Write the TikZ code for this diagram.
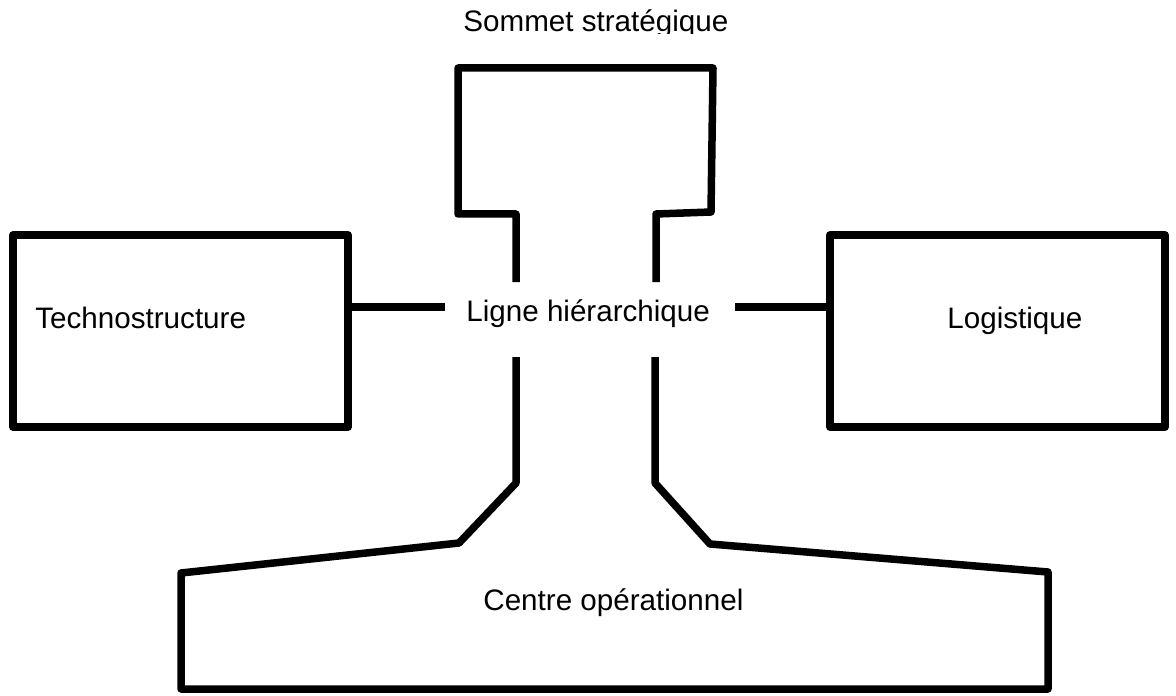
\documentclass[tikz,border=0pt]{standalone}
\usepackage{fontspec}
\setmainfont{Liberation Sans}
\begin{document}
\begin{tikzpicture}[x=0.5pt,y=-0.5pt,
  shape line/.style={line width=3.75pt,line join=round,line cap=butt,black},
  box/.style={draw,rectangle,line width=3.75pt,line join=round,inner sep=0pt,minimum width=167.5pt,minimum height=96pt},
  lbl/.style={inner sep=0pt,anchor=base west,font=\fontsize{14.8}{17}\selectfont}]
\useasboundingbox[fill=white] (0,0) rectangle (1176,695);
% strategic apex label (clipped at the top edge like the reference)
\begin{scope}
\clip (0,0) rectangle (1176,34);
\node[lbl] (sommet) at (463,32) {Sommet stratégique};
\end{scope}
% side boxes
\node[box] (tech) at (180.5,331) {};
\node[box] (logi) at (997.5,331) {};
\node[lbl] (techt) at (35,328) {Technostructure};
\node[lbl] (logit) at (947,328) {Logistique};
% middle line label
\node[lbl] (ligne) at (466,321) {Ligne hiérarchique};
\node[lbl] (centre) at (483,610) {Centre opérationnel};
% apex outline
\draw[shape line] (516,282) -- (516,214) -- (458,214) -- (458,68) -- (713,68)
  -- (711,212) -- (656,214) -- (656,282);
% operating core outline
\draw[shape line] (516,357) -- (516,483) -- (459,543) -- (181,573) -- (181,689)
  -- (1048,689) -- (1048,572) -- (710,544) -- (655,483) -- (655,357);
% connectors
\coordinate (ls) at (445,307);
\coordinate (rs) at (735,307);
\draw[shape line] (tech.east |- ls) -- (ls);
\draw[shape line] (rs) -- (logi.west |- rs);
\end{tikzpicture}
\end{document}
